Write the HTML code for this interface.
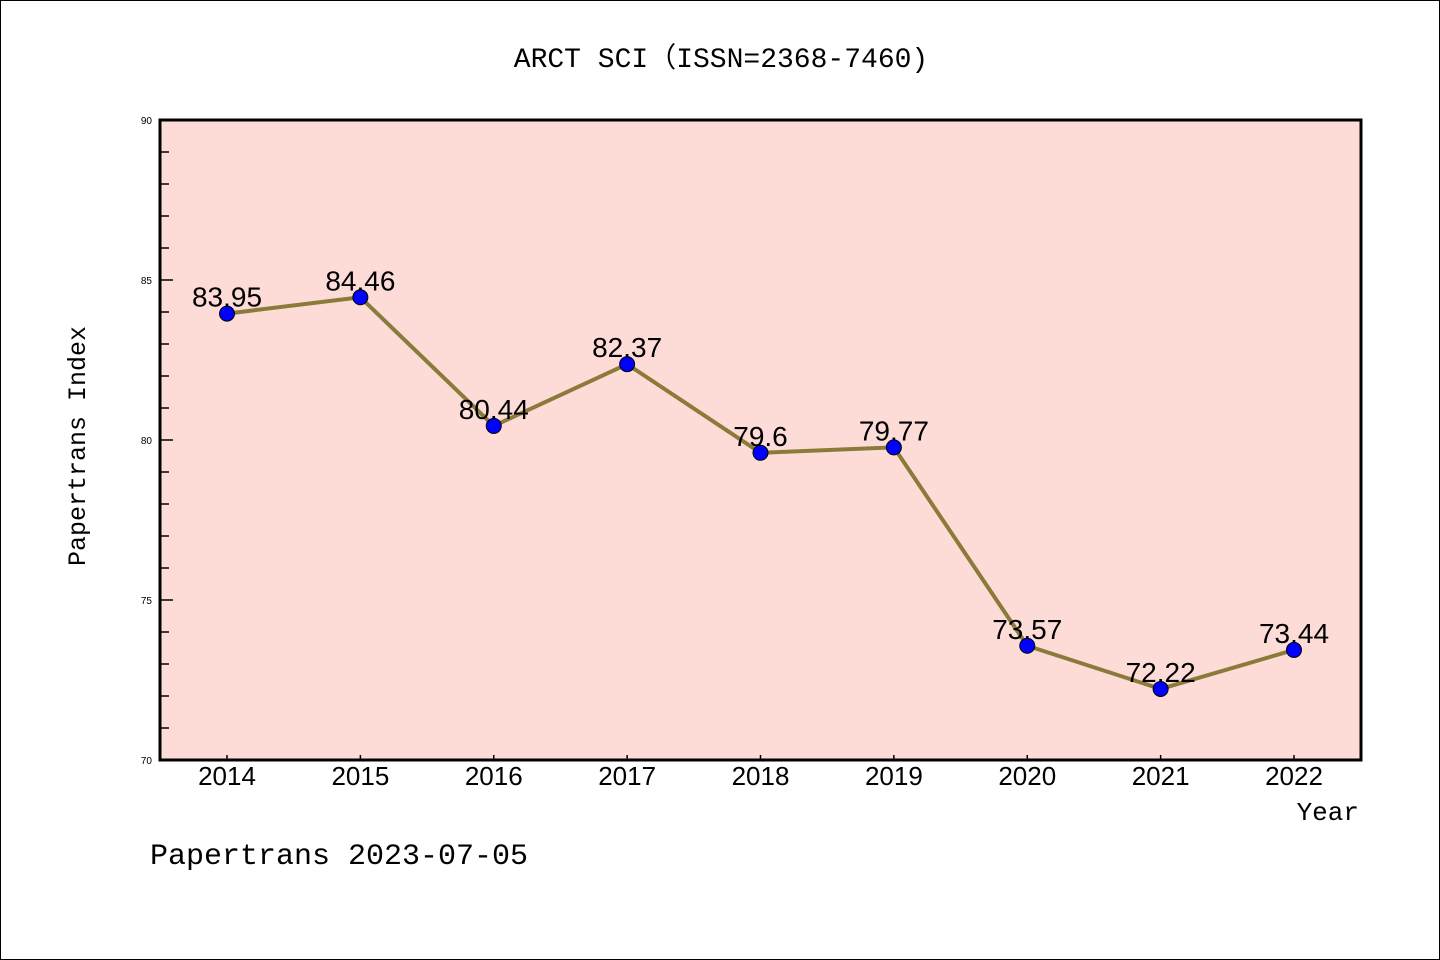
<!DOCTYPE html>
<html><head><meta charset="utf-8"><style>
html,body{margin:0;padding:0;background:#fff}
svg{display:block}
</style></head><body>
<svg width="1440" height="960" viewBox="0 0 1440 960" xmlns="http://www.w3.org/2000/svg">
<rect x="0.5" y="0.5" width="1439" height="959" fill="#fff" stroke="#000" stroke-width="1"/>
<text x="721" y="67" text-anchor="middle" font-family="'Liberation Mono','WenQuanYi Zen Hei',monospace" font-size="28" fill="#000">ARCT SCI（ISSN=2368-7460)</text>
<rect x="160" y="120" width="1201" height="640" fill="#fddcd8"/>
<g id="yticks"></g>
<g id="xticks"></g>
<g id="series"></g>
<rect x="160" y="120" width="1201" height="640" fill="none" stroke="#000" stroke-width="3"/>
<text x="85" y="446" text-anchor="middle" transform="rotate(-90 85 446)" font-family="'Liberation Mono',monospace" font-size="25" fill="#000">Papertrans Index</text>
<text x="1359" y="820" text-anchor="end" font-family="'Liberation Mono',monospace" font-size="26" fill="#000">Year</text>
<text x="150" y="864" font-family="'Liberation Mono',monospace" font-size="30" fill="#000">Papertrans 2023-07-05</text>
</svg>
<script>
const years = ['2014','2015','2016','2017','2018','2019','2020','2021','2022'];
const values = [83.95,84.46,80.44,82.37,79.6,79.77,73.57,72.22,73.44];
const valueLabels = ['83.95','84.46','80.44','82.37','79.6','79.77','73.57','72.22','73.44'];
const yTickLabels = ['70','75','80','85','90'];
const yMin = 70, yMax = 90;
const NS = 'http://www.w3.org/2000/svg';
function xPos(i){ return 227 + i*(1294-227)/(years.length-1); }
function yPos(v){ return 760 - (v-yMin)/(yMax-yMin)*640; }
function mk(tag, attrs, parent){ const e=document.createElementNS(NS,tag); for(const k in attrs) e.setAttribute(k,attrs[k]); parent.appendChild(e); return e; }
const yg=document.getElementById('yticks'), xg=document.getElementById('xticks'), sg=document.getElementById('series');
for(let v=yMin; v<=yMax; v++){
  const major = (v%5===0);
  const t=mk('line',{x1:160,x2:major?173:169,y1:yPos(v),y2:yPos(v),stroke:'#000','stroke-width':1.5},yg);
  
  
}
yTickLabels.forEach(l=>{
  const t=mk('text',{x:152,y:yPos(+l)+4,'text-anchor':'end','font-family':'Liberation Sans, sans-serif','font-size':10,fill:'#000'},yg);
  t.textContent=l;
  
  
});
years.forEach((y,i)=>{
  const t=mk('line',{x1:xPos(i),x2:xPos(i),y1:760,y2:755,stroke:'#000','stroke-width':1.5},xg);
  
  
  const l=mk('text',{x:xPos(i),y:785,'text-anchor':'middle','font-family':'Liberation Sans, sans-serif','font-size':26,fill:'#000'},xg);
  l.textContent=y;
  
  
});
const line=mk('polyline',{points:values.map((v,i)=>xPos(i)+','+yPos(v)).join(' '),fill:'none',stroke:'#8b7b3a','stroke-width':4,'stroke-linejoin':'round'},sg);


values.forEach((v,i)=>{
  const c=mk('circle',{cx:xPos(i),cy:yPos(v),r:7.5,fill:'#0000ff',stroke:'#000','stroke-width':1},sg);
  
  
});
values.forEach((v,i)=>{
  const t=mk('text',{x:xPos(i),y:yPos(v)-7,'text-anchor':'middle','font-family':'Liberation Sans, sans-serif','font-size':28,fill:'#000'},sg);
  t.textContent=valueLabels[i];
  
  
});
</script>
</body></html>
